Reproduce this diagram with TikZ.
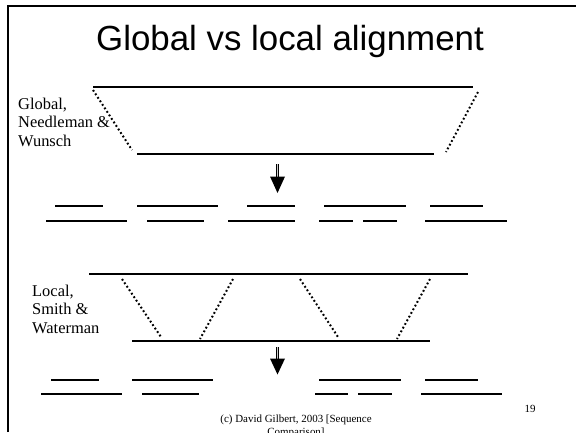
\documentclass[tikz,border=0pt]{standalone}
\usepackage{fontspec}
\setmainfont{Liberation Serif}
\newfontfamily\titlefont{Liberation Sans}
\begin{document}
\begin{tikzpicture}[x=1bp,y=-1bp,
  seq/.style={line width=1.8bp},
  frag/.style={line width=1.7bp},
  dotline/.style={line width=2bp, dash pattern=on 1.8bp off 2.4bp},
  lbl/.style={font=\fontsize{16.5}{18.5}\selectfont, align=left, anchor=base west, inner sep=0pt},
  small/.style={font=\fontsize{11}{12.5}\selectfont, inner sep=0pt, anchor=base}]
\useasboundingbox (0,0) rectangle (576,432);
\begin{scope}
\clip (0,0) rectangle (576,432);
% frame
\coordinate (f1) at (8,432);
\coordinate (f2) at (8,6);
\coordinate (f3) at (576,6);
\draw[line width=1.1bp] (f1) -- (f2) -- (f3);
% title
\node[font=\titlefont\fontsize{35}{40}\selectfont, anchor=base, inner sep=0pt] (title) at (290,50) {Global vs local alignment};
% ---------- Global ----------
\node[lbl] (glab) at (18,146) {Global,\\Needleman \&\\Wunsch};
\coordinate (gtl) at (93,87);  \coordinate (gtr) at (473,87);
\coordinate (gbl) at (137,154); \coordinate (gbr) at (434,154);
\draw[seq] (gtl) -- (gtr);
\draw[seq] (gbl) -- (gbr);
\coordinate (gd1a) at (93,90);  \coordinate (gd1b) at (132,150);
\coordinate (gd2a) at (478,92); \coordinate (gd2b) at (446,152);
\draw[dotline] (gd1a) -- (gd1b);
\draw[dotline] (gd2a) -- (gd2b);
% arrow
\coordinate (ga1) at (277.5,164); \coordinate (ga2) at (277.5,177);
\draw[line width=0.7bp, double=gray!40, double distance=1.6bp] (ga1) -- (ga2);
\fill (270,176.5) -- (285,176.5) -- (277.5,193) -- cycle;
% fragments
\foreach \a/\b in {55/103,137/218,247/295,324/406,430/483}
  {\coordinate (u\a) at (\a,206); \coordinate (v\a) at (\b,206); \draw[frag] (u\a) -- (v\a);}
\foreach \a/\b in {46/127,147/204,228/295,319/353,363/397,425/507}
  {\coordinate (w\a) at (\a,221); \coordinate (z\a) at (\b,221); \draw[frag] (w\a) -- (z\a);}
% ---------- Local ----------
\node[lbl] (llab) at (32,333) {Local,\\Smith \&\\Waterman};
\coordinate (ltl) at (89,274);  \coordinate (ltr) at (468,274);
\coordinate (lbl) at (132,341); \coordinate (lbr) at (430,341);
\draw[seq] (ltl) -- (ltr);
\draw[seq] (lbl) -- (lbr);
\coordinate (d1a) at (122,279); \coordinate (d1b) at (161,337);
\coordinate (d2a) at (233,279); \coordinate (d2b) at (200,339);
\coordinate (d3a) at (300,279); \coordinate (d3b) at (338,337);
\coordinate (d4a) at (430,279); \coordinate (d4b) at (397,339);
\draw[dotline] (d1a) -- (d1b);
\draw[dotline] (d2a) -- (d2b);
\draw[dotline] (d3a) -- (d3b);
\draw[dotline] (d4a) -- (d4b);
\coordinate (la1) at (277.5,347); \coordinate (la2) at (277.5,359);
\draw[line width=0.7bp, double=gray!40, double distance=1.6bp] (la1) -- (la2);
\fill (270,358.5) -- (285,358.5) -- (277.5,374.5) -- cycle;
\foreach \a/\b in {51/99,132/213,319/401,425/478}
  {\coordinate (p\a) at (\a,380); \coordinate (q\a) at (\b,380); \draw[frag] (p\a) -- (q\a);}
\foreach \a/\b in {41/122,142/199,315/348,358/392,421/502}
  {\coordinate (r\a) at (\a,394); \coordinate (s\a) at (\b,394); \draw[frag] (r\a) -- (s\a);}
% footer
\node[small, align=center] (foot) at (296,435) {(c) David Gilbert, 2003 [Sequence\\Comparison]};
\node[small] (pg) at (530,412) {19};
\end{scope}
\end{tikzpicture}
\end{document}
